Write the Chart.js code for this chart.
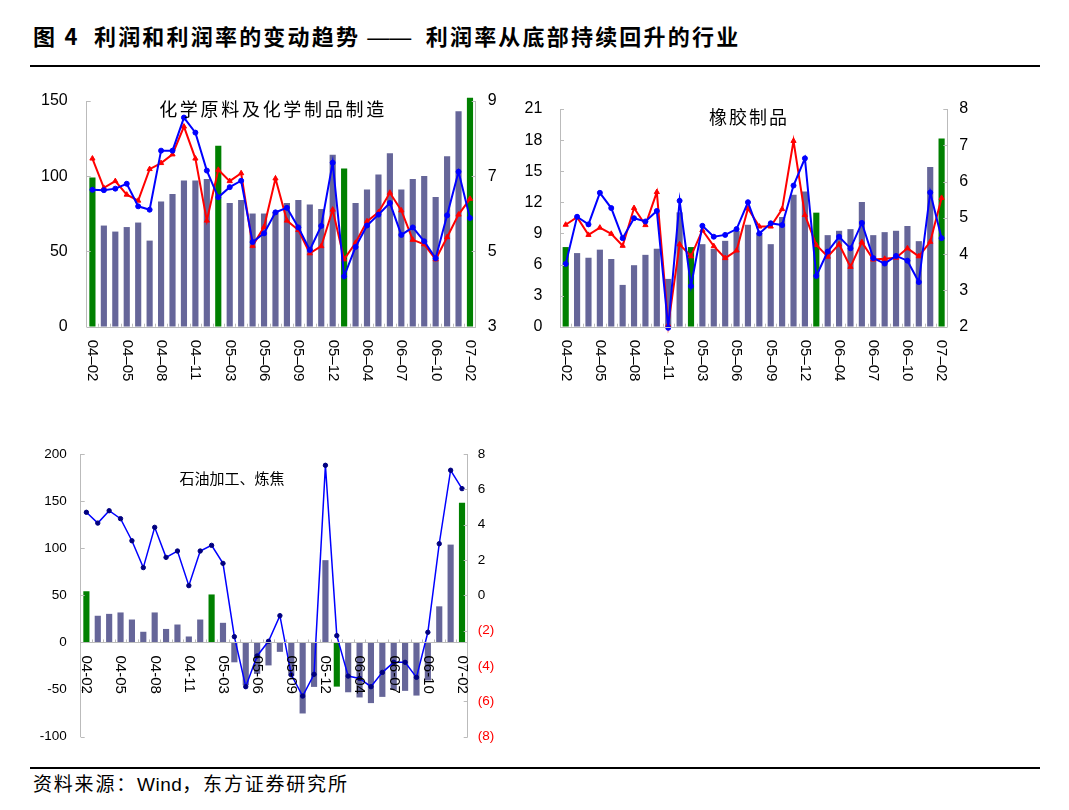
<!DOCTYPE html>
<html>
<head>
<meta charset="utf-8">
<script src="https://cdn.jsdelivr.net/npm/chart.js@4.4.0/dist/chart.umd.min.js"></script>
<style>
  body { margin: 0; background: #fff; width: 1069px; height: 810px; position: relative; overflow: hidden; }
  canvas { position: absolute; }
  #hdr { position: absolute; left: 33px; top: 24px; font: bold 22px/22px "Noto Sans CJK SC", sans-serif; letter-spacing: 2.2px; white-space: pre; color: #000; }
  #hdr .dash { font-family: "Liberation Sans", Arial, sans-serif; font-weight: normal; letter-spacing: 0; }
  #src { position: absolute; left: 33px; top: 773px; font: 19px/19px "Noto Sans CJK SC", sans-serif; letter-spacing: 1.8px; white-space: pre; color: #000; }
  #src .lat { font-family: "Liberation Sans", Arial, sans-serif; letter-spacing: 0.5px; }
  .rule { position: absolute; left: 30px; width: 1010px; height: 2px; background: #000; }
</style>
</head>
<body>
<div id="hdr">图 4  利润和利润率的变动趋势 <span class="dash">——</span>  利润率从底部持续回升的行业</div>
<div class="rule" style="top:65px"></div>
<canvas id="chem" width="480" height="300" style="left:30px;top:85px"></canvas>
<canvas id="rubber" width="470" height="300" style="left:510px;top:85px"></canvas>
<canvas id="oil" width="480" height="320" style="left:30px;top:440px"></canvas>
<div class="rule" style="top:767px"></div>
<div id="src">资料来源：<span class="lat">Wind</span>，东方证券研究所</div>
<script>
const months = ['04-02','04-03','04-04','04-05','04-06','04-07','04-08','04-09','04-10','04-11','04-12',
                '05-02','05-03','05-04','05-05','05-06','05-07','05-08','05-09','05-10','05-11','05-12',
                '06-02','06-03','06-04','06-05','06-06','06-07','06-08','06-09','06-10','06-11','06-12',
                '07-02'];
const xTicks = ['04-02','04-05','04-08','04-11','05-03','05-06','05-09','05-12','06-04','06-07','06-10','07-02'];

// 化学原料及化学制品制造
const chemProfit = [99,67,63,66,69,57,83,88,97,97,98,120,82,84,75,75,76,82,84,81,78,114,105,82,91,101,115,91,98,100,86,113,143,152];
const chemRed = [7.47,6.69,6.87,6.51,6.35,7.19,7.35,7.58,8.32,7.47,5.82,7.17,6.87,7.08,5.15,5.65,6.94,5.82,5.57,4.95,5.14,6.11,4.79,5.23,5.80,6.04,6.56,6.09,5.31,5.19,4.79,5.38,5.98,6.40];
const chemBlue = [6.64,6.63,6.67,6.80,6.20,6.11,7.68,7.68,8.56,8.16,7.15,6.44,6.71,6.88,5.25,5.48,6.04,6.16,5.64,5.04,5.68,7.36,4.34,5.12,5.69,5.98,6.29,5.44,5.64,5.27,4.82,5.96,7.12,5.89];

// 橡胶制品
const rubberProfit = [7.65,7.07,6.62,7.40,6.50,4.0,5.9,6.9,7.49,4.58,11.0,7.65,7.93,7.48,8.25,9.2,9.8,9.0,7.93,10.55,12.7,13.0,10.97,8.8,9.22,9.38,12.0,8.8,9.09,9.22,9.68,8.22,15.37,18.12];
const rubberRed = [4.81,5.02,4.53,4.73,4.56,4.23,5.27,4.80,5.71,2.05,4.27,3.94,4.66,4.22,3.89,4.10,5.26,4.76,4.76,5.24,7.12,5.08,4.25,3.93,4.27,3.65,4.33,3.85,3.87,3.90,4.16,3.94,4.34,5.55];
const rubberBlue = [3.73,5.03,4.82,5.69,5.27,4.44,4.99,4.90,5.19,1.97,5.47,3.12,4.78,4.48,4.53,4.69,5.43,4.57,4.85,4.80,5.89,6.64,3.40,4.07,4.48,4.16,4.86,3.89,3.74,3.95,3.82,3.23,5.70,4.44];

// 石油加工、炼焦
const oilProfit = [54,28,30,31.5,24,11,31.5,14,18.7,6,24,50.6,20.5,-20.7,-45,-33,-24,-9.6,-35,-75,-46.8,87,-46.5,-52.5,-58,-64,-57.4,-50,-51,-56,-40,38,103.5,148];
const oilBlue = [4.70,4.09,4.79,4.34,3.09,1.57,3.85,2.15,2.51,0.55,2.51,2.83,1.81,-2.34,-5.17,-3.43,-2.60,-1.15,-4.50,-5.70,-4.47,7.36,-2.28,-4.57,-4.70,-5.17,-4.36,-3.79,-3.79,-4.64,-2.09,2.92,7.08,6.04];

const BAR = '#666699', GREEN = '#008000', GRAY = '#bbbbbb';
const NUM = '"Liberation Sans", Arial, sans-serif';

// axis decoration, rotated month labels and panel title
const panelDecor = {
    id: 'panelDecor',
    afterDraw(chart, args, o) {
        const ctx = chart.ctx, area = chart.chartArea;
        const x = chart.scales.x, yl = chart.scales.y, yr = chart.scales.y1;
        const baseY = o.zeroLine ? yl.getPixelForValue(0) : area.bottom;
        const cw = (area.right - area.left) / months.length;
        ctx.save();
        ctx.strokeStyle = GRAY;
        ctx.lineWidth = 1;
        ctx.beginPath();
        ctx.moveTo(area.left, Math.round(baseY) + 0.5);
        ctx.lineTo(area.right, Math.round(baseY) + 0.5);
        for (let i = 1; i < months.length; i++) {
            const px = Math.round(area.left + i * cw) + 0.5;
            ctx.moveTo(px, baseY);
            ctx.lineTo(px, baseY - 3);
        }
        yl.ticks.forEach(t => {
            const py = Math.round(yl.getPixelForValue(t.value)) + 0.5;
            ctx.moveTo(area.left, py);
            ctx.lineTo(area.left + 4, py);
        });
        yr.ticks.forEach(t => {
            const py = Math.round(yr.getPixelForValue(t.value)) + 0.5;
            ctx.moveTo(area.right, py);
            ctx.lineTo(area.right - 4, py);
        });
        ctx.stroke();

        ctx.fillStyle = '#000';
        ctx.font = '15px ' + NUM;
        ctx.textAlign = 'left';
        ctx.textBaseline = 'middle';
        xTicks.forEach(m => {
            const px = x.getPixelForValue(months.indexOf(m));
            ctx.save();
            ctx.translate(px, baseY + o.labelGap);
            ctx.rotate(Math.PI / 2);
            ctx.fillText(o.dash ? m.replace('-', '–') : m, 0, 0);
            ctx.restore();
        });

        ctx.font = o.titleFont;
        ctx.letterSpacing = o.spacing;
        ctx.textAlign = 'center';
        ctx.fillText(o.title, o.titleX, o.titleY);
        ctx.restore();
    }
};

function makeChart(id, cfg) {
    const datasets = [{
        type: 'bar',
        data: cfg.bars,
        backgroundColor: months.map(m => m.endsWith('-02') ? GREEN : BAR),
        barThickness: 5.5,
        yAxisID: 'y',
        order: 3,
        clip: false
    }];
    cfg.lines.forEach((l, k) => {
        datasets.push({
            type: 'line',
            data: l.data,
            yAxisID: 'y1',
            borderColor: l.color,
            borderWidth: l.width,
            pointStyle: l.style,
            pointRadius: l.radius,
            pointBackgroundColor: l.pointColor,
            pointBorderColor: l.pointColor,
            pointBorderWidth: 1,
            tension: 0,
            order: cfg.lines.length - k,
            clip: false
        });
    });
    const yAxis = (a, pos) => ({
        position: pos,
        min: a.min, max: a.max,
        ticks: {
            stepSize: a.step,
            padding: a.pad,
            font: { family: NUM, size: a.size },
            color: a.color || '#000',
            callback: a.fmt || (v => v)
        },
        grid: { drawOnChartArea: false, drawTicks: false },
        border: { color: GRAY },
        // fixed axis width and no extra label padding so the plot area lands where the reference has it
        afterFit: s => { s.width = a.width; s.paddingTop = 0; s.paddingBottom = 0; }
    });
    return new Chart(document.getElementById(id), {
        type: 'bar',
        data: { labels: months, datasets: datasets },
        options: {
            responsive: false,
            animation: false,
            devicePixelRatio: 1,
            layout: { padding: { left: 0, right: 0, top: cfg.padTop, bottom: cfg.padBottom } },
            plugins: {
                legend: { display: false },
                tooltip: { enabled: false },
                panelDecor: cfg.decor
            },
            scales: {
                x: { display: false, offset: true },
                y: yAxis(cfg.left, 'left'),
                y1: yAxis(cfg.right, 'right')
            }
        },
        plugins: [panelDecor]
    });
}

const redLine = data => ({ data, color: '#ff0000', width: 2, style: 'triangle', radius: 3, pointColor: '#ff0000' });
const blueLine = data => ({ data, color: '#0000ff', width: 2, style: 'circle', radius: 2.5, pointColor: '#0000ff' });

makeChart('chem', {
    bars: chemProfit,
    lines: [redLine(chemRed), blueLine(chemBlue)],
    padTop: 16, padBottom: 58.3,
    left: { min: 0, max: 150, step: 50, pad: 19, size: 16, width: 56.7 },
    right: { min: 3, max: 9, step: 2, pad: 12, size: 16, width: 34.3 },
    decor: { title: '化学原料及化学制品制造', titleFont: '18px "Noto Sans CJK SC"', spacing: '2.7px', titleX: 243, titleY: 24, labelGap: 13, dash: true }
});

makeChart('rubber', {
    bars: rubberProfit,
    lines: [redLine(rubberRed), blueLine(rubberBlue)],
    padTop: 24, padBottom: 58.3,
    left: { min: 0, max: 21, step: 3, pad: 17.7, size: 16, width: 50 },
    right: { min: 2, max: 8, step: 1, pad: 12, size: 16, width: 32.7 },
    decor: { title: '橡胶制品', titleFont: '18px "Noto Sans CJK SC"', spacing: '2px', titleX: 239, titleY: 31.7, labelGap: 13, dash: true }
});

makeChart('oil', {
    bars: oilProfit,
    lines: [{ data: oilBlue, color: '#0000ff', width: 1.5, style: 'circle', radius: 2.2, pointColor: '#000080' }],
    padTop: 14, padBottom: 23.3,
    left: { min: -100, max: 200, step: 50, pad: 14, size: 13.5, width: 50.7 },
    right: { min: -8, max: 8, step: 2, pad: 10, size: 13.5, width: 42.3,
             fmt: v => v < 0 ? '(' + (-v) + ')' : v,
             color: c => c.tick && c.tick.value < 0 ? '#ff0000' : '#000' },
    decor: { title: '石油加工、炼焦', titleFont: '15px "Noto Sans CJK SC"', spacing: '0px', titleX: 202, titleY: 38, labelGap: 13, zeroLine: true, dash: false }
});
</script>
</body>
</html>
